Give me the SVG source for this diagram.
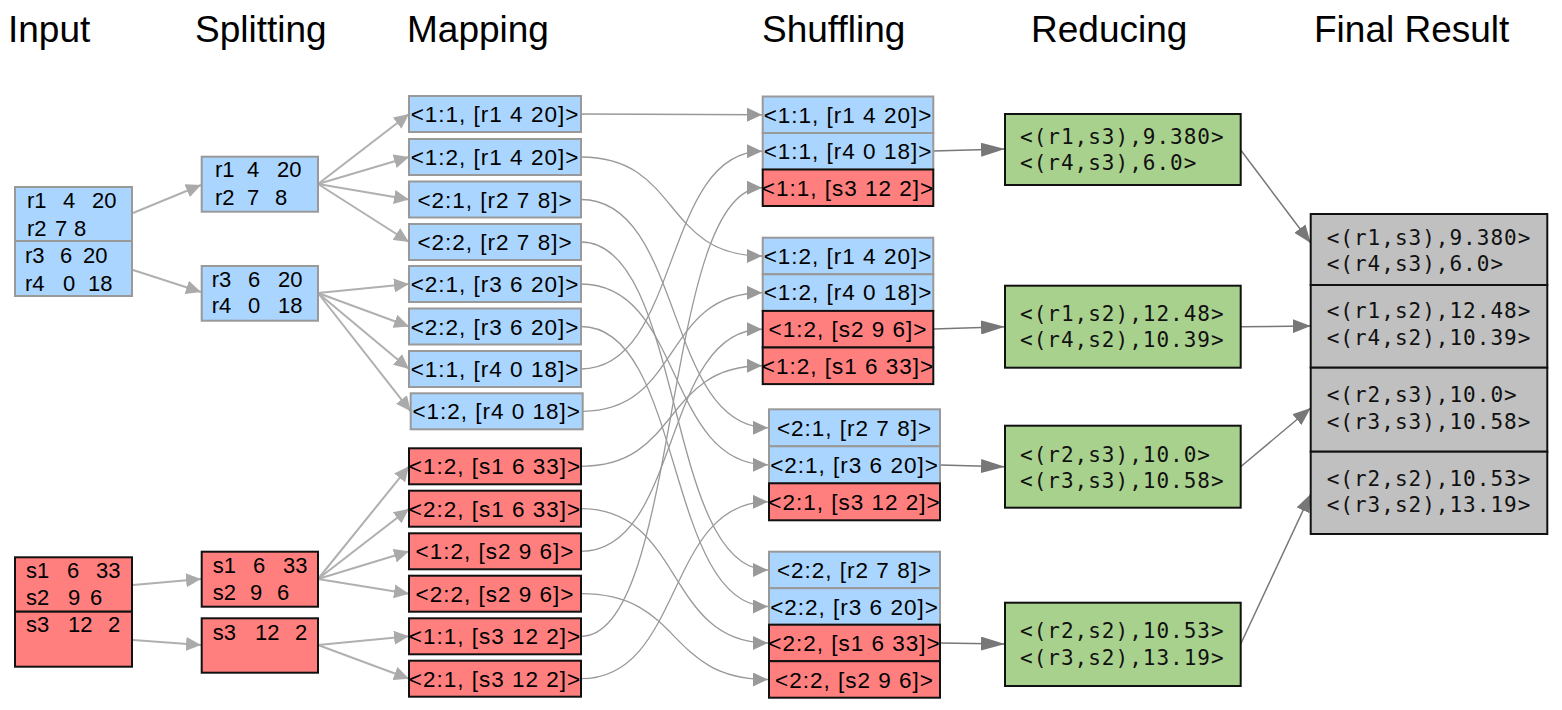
<svg xmlns="http://www.w3.org/2000/svg" width="1562" height="710" viewBox="0 0 1562 710">
<style>
.hd{font-family:"Liberation Sans",Arial,sans-serif;font-size:37px;fill:#000}
.tx{font-family:"Liberation Sans",Arial,sans-serif;font-size:22px;fill:#000}
.mt{font-family:"Liberation Sans",Arial,sans-serif;font-size:22.5px;fill:#000;letter-spacing:1px;text-anchor:middle}
.mono{font-family:"DejaVu Sans Mono","Liberation Mono",monospace;font-size:21px;fill:#111;letter-spacing:1px}
.b{fill:#aad5ff;stroke:#999;stroke-width:2}
.r{fill:#ff7f7f;stroke:#111;stroke-width:2}
.g{fill:#a9d18e;stroke:#111;stroke-width:2}
.f{fill:#c0c0c0;stroke:#111;stroke-width:2}
.c1{fill:none;stroke:#b0b0b0;stroke-width:2;marker-end:url(#aL)}
.c2{fill:none;stroke:#999;stroke-width:1.3;marker-end:url(#aM)}
.c3{fill:none;stroke:#777;stroke-width:1.5;marker-end:url(#aD)}
.c4{fill:none;stroke:#777;stroke-width:1.5;marker-end:url(#aF)}
</style>
<defs>
<marker id="aL" markerUnits="userSpaceOnUse" markerWidth="15" markerHeight="14" refX="15" refY="7" orient="auto"><path d="M0,0 L15,7 L0,14 z" fill="#aaa"/></marker>
<marker id="aM" markerUnits="userSpaceOnUse" markerWidth="15" markerHeight="14" refX="15" refY="7" orient="auto"><path d="M0,0 L15,7 L0,14 z" fill="#999"/></marker>
<marker id="aD" markerUnits="userSpaceOnUse" markerWidth="24" markerHeight="14" refX="24" refY="7" orient="auto"><path d="M0,0 L24,7 L0,14 z" fill="#777"/></marker>
<marker id="aF" markerUnits="userSpaceOnUse" markerWidth="18" markerHeight="14" refX="18" refY="7" orient="auto"><path d="M0,0 L18,7 L0,14 z" fill="#777"/></marker>
</defs>
<rect width="1562" height="710" fill="#fff"/>

<g id="headers">
<text class="hd" x="8" y="42">Input</text>
<text class="hd" x="195" y="42">Splitting</text>
<text class="hd" x="407" y="42">Mapping</text>
<text class="hd" x="762" y="42">Shuffling</text>
<text class="hd" x="1031" y="42">Reducing</text>
<text class="hd" x="1314" y="42">Final Result</text>
</g>

<g id="connectors">
<line class="c1" x1="133" y1="213" x2="201" y2="185"/>
<line class="c1" x1="133" y1="270" x2="201" y2="292"/>
<line class="c1" x1="133" y1="585" x2="201" y2="579"/>
<line class="c1" x1="133" y1="640" x2="201" y2="645"/>
<line class="c1" x1="318" y1="184" x2="409" y2="114"/>
<line class="c1" x1="318" y1="184" x2="409" y2="157"/>
<line class="c1" x1="318" y1="184" x2="409" y2="199.5"/>
<line class="c1" x1="318" y1="184" x2="409" y2="242"/>
<line class="c1" x1="318" y1="293" x2="409" y2="284"/>
<line class="c1" x1="318" y1="293" x2="409" y2="326.5"/>
<line class="c1" x1="318" y1="293" x2="409" y2="369"/>
<line class="c1" x1="318" y1="293" x2="410.7" y2="411.3"/>
<line class="c1" x1="318" y1="579" x2="409" y2="466.3"/>
<line class="c1" x1="318" y1="579" x2="409" y2="508.7"/>
<line class="c1" x1="318" y1="579" x2="409" y2="551.3"/>
<line class="c1" x1="318" y1="579" x2="409" y2="593.7"/>
<line class="c1" x1="318" y1="645" x2="409" y2="636.3"/>
<line class="c1" x1="318" y1="645" x2="409" y2="678.7"/>
<path class="c2" d="M581,114 L762,114.75"/>
<path class="c2" d="M581,157 C681,157 662,256 762,256"/>
<path class="c2" d="M581,199.5 C684,199.5 665,427.8 768,427.8"/>
<path class="c2" d="M581,242 C684,242 665,570 768,570"/>
<path class="c2" d="M581,284 C684,284 665,464.8 768,464.8"/>
<path class="c2" d="M581,326.5 C684,326.5 665,606.5 768,606.5"/>
<path class="c2" d="M581,369 C681,369 662,151.25 762,151.25"/>
<path class="c2" d="M582.7,411.3 C682,411.3 662,292.75 762,292.75"/>
<path class="c2" d="M581,466.3 C681,466.3 662,365.75 762,365.75"/>
<path class="c2" d="M581,508.7 C684,508.7 665,643 768,643"/>
<path class="c2" d="M581,551.3 C681,551.3 662,329.25 762,329.25"/>
<path class="c2" d="M581,593.7 C684,593.7 665,679.5 768,679.5"/>
<path class="c2" d="M581,636.3 C681,636.3 662,187.75 762,187.75"/>
<path class="c2" d="M581,678.7 C684,678.7 665,501.8 768,501.8"/>
<line class="c3" x1="933.3" y1="151" x2="1005" y2="149"/>
<line class="c3" x1="933.3" y1="329" x2="1005" y2="326.7"/>
<line class="c3" x1="940" y1="465" x2="1005" y2="466.7"/>
<line class="c3" x1="940" y1="643" x2="1005" y2="644"/>
<line class="c4" x1="1240.7" y1="150" x2="1310.7" y2="243"/>
<line class="c4" x1="1240.7" y1="326.7" x2="1310.7" y2="326"/>
<line class="c4" x1="1240.7" y1="466.7" x2="1310.7" y2="408"/>
<line class="c4" x1="1240.7" y1="644" x2="1310.7" y2="494"/>
</g>

<g id="input-r">
<rect class="b" x="15" y="187" width="117" height="54"/>
<rect class="b" x="15" y="241" width="117" height="55"/>
<text class="tx" y="208"><tspan x="27">r1</tspan><tspan x="63">4</tspan><tspan x="92">20</tspan></text>
<text class="tx" y="236"><tspan x="27">r2</tspan><tspan x="55">7</tspan><tspan x="74">8</tspan></text>
<text class="tx" y="263"><tspan x="25">r3</tspan><tspan x="60">6</tspan><tspan x="83">20</tspan></text>
<text class="tx" y="291"><tspan x="25">r4</tspan><tspan x="63">0</tspan><tspan x="88">18</tspan></text>
</g>
<g id="input-s">
<rect class="r" x="15" y="557.3" width="117" height="54.4"/>
<rect class="r" x="15" y="611.7" width="117" height="55"/>
<text class="tx" y="578"><tspan x="26">s1</tspan><tspan x="67">6</tspan><tspan x="96">33</tspan></text>
<text class="tx" y="605"><tspan x="26">s2</tspan><tspan x="68">9</tspan><tspan x="90">6</tspan></text>
<text class="tx" y="632"><tspan x="26">s3</tspan><tspan x="68">12</tspan><tspan x="108">2</tspan></text>
</g>

<g id="split-r1">
<rect class="b" x="201.7" y="156.7" width="116.3" height="55"/>
<text class="tx" y="177"><tspan x="215">r1</tspan><tspan x="247">4</tspan><tspan x="277">20</tspan></text>
<text class="tx" y="205"><tspan x="215">r2</tspan><tspan x="247">7</tspan><tspan x="275">8</tspan></text>
</g>
<g id="split-r2">
<rect class="b" x="201.7" y="266" width="116.3" height="54.7"/>
<text class="tx" y="287"><tspan x="211.7">r3</tspan><tspan x="248">6</tspan><tspan x="278">20</tspan></text>
<text class="tx" y="313"><tspan x="211.7">r4</tspan><tspan x="248">0</tspan><tspan x="278">18</tspan></text>
</g>
<g id="split-s1">
<rect class="r" x="201.7" y="551.7" width="116.3" height="55"/>
<text class="tx" y="573"><tspan x="212.7">s1</tspan><tspan x="253">6</tspan><tspan x="283">33</tspan></text>
<text class="tx" y="600"><tspan x="212.7">s2</tspan><tspan x="250">9</tspan><tspan x="277">6</tspan></text>
</g>
<g id="split-s2">
<rect class="r" x="201.7" y="618.3" width="116.3" height="54.4"/>
<text class="tx" y="640"><tspan x="212.7">s3</tspan><tspan x="255">12</tspan><tspan x="295">2</tspan></text>
</g>

<g id="map-1"><rect class="b" x="409" y="96" width="172" height="36"/><text class="mt" x="495" y="122">&lt;1:1, [r1 4 20]&gt;</text></g>
<g id="map-2"><rect class="b" x="409" y="139" width="172" height="36"/><text class="mt" x="495" y="165">&lt;1:2, [r1 4 20]&gt;</text></g>
<g id="map-3"><rect class="b" x="409" y="181.5" width="172" height="36"/><text class="mt" x="495" y="207.5">&lt;2:1, [r2 7 8]&gt;</text></g>
<g id="map-4"><rect class="b" x="409" y="224" width="172" height="36"/><text class="mt" x="495" y="250">&lt;2:2, [r2 7 8]&gt;</text></g>
<g id="map-5"><rect class="b" x="409" y="266" width="172" height="36"/><text class="mt" x="495" y="292">&lt;2:1, [r3 6 20]&gt;</text></g>
<g id="map-6"><rect class="b" x="409" y="308.5" width="172" height="36"/><text class="mt" x="495" y="334.5">&lt;2:2, [r3 6 20]&gt;</text></g>
<g id="map-7"><rect class="b" x="409" y="351" width="172" height="36"/><text class="mt" x="495" y="377">&lt;1:1, [r4 0 18]&gt;</text></g>
<g id="map-8"><rect class="b" x="410.7" y="393.3" width="172" height="36"/><text class="mt" x="496.7" y="419.3">&lt;1:2, [r4 0 18]&gt;</text></g>
<g id="map-9"><rect class="r" x="409" y="448.3" width="172" height="36"/><text class="mt" x="495" y="474.3">&lt;1:2, [s1 6 33]&gt;</text></g>
<g id="map-10"><rect class="r" x="409" y="490.7" width="172" height="36"/><text class="mt" x="495" y="516.7">&lt;2:2, [s1 6 33]&gt;</text></g>
<g id="map-11"><rect class="r" x="409" y="533.3" width="172" height="36"/><text class="mt" x="495" y="559.3">&lt;1:2, [s2 9 6]&gt;</text></g>
<g id="map-12"><rect class="r" x="409" y="575.7" width="172" height="36"/><text class="mt" x="495" y="601.7">&lt;2:2, [s2 9 6]&gt;</text></g>
<g id="map-13"><rect class="r" x="409" y="618.3" width="172" height="36"/><text class="mt" x="495" y="644.3">&lt;1:1, [s3 12 2]&gt;</text></g>
<g id="map-14"><rect class="r" x="409" y="660.7" width="172" height="36"/><text class="mt" x="495" y="686.7">&lt;2:1, [s3 12 2]&gt;</text></g>

<g id="shuffle-1">
<rect class="b" x="762.7" y="96.5" width="170.6" height="36.5"/>
<rect class="b" x="762.7" y="133" width="170.6" height="36.5"/>
<rect class="r" x="762.7" y="169.5" width="170.6" height="36.5"/>
<text class="mt" x="848" y="122.5">&lt;1:1, [r1 4 20]&gt;</text>
<text class="mt" x="848" y="159">&lt;1:1, [r4 0 18]&gt;</text>
<text class="mt" x="848" y="195.5">&lt;1:1, [s3 12 2]&gt;</text>
</g>
<g id="shuffle-2">
<rect class="b" x="762.7" y="237.7" width="170.6" height="36.6"/>
<rect class="b" x="762.7" y="274.3" width="170.6" height="36.6"/>
<rect class="r" x="762.7" y="310.9" width="170.6" height="36.6"/>
<rect class="r" x="762.7" y="347.5" width="170.6" height="36.6"/>
<text class="mt" x="848" y="263.7">&lt;1:2, [r1 4 20]&gt;</text>
<text class="mt" x="848" y="300.3">&lt;1:2, [r4 0 18]&gt;</text>
<text class="mt" x="848" y="336.9">&lt;1:2, [s2 9 6]&gt;</text>
<text class="mt" x="848" y="373.5">&lt;1:2, [s1 6 33]&gt;</text>
</g>
<g id="shuffle-3">
<rect class="b" x="769" y="409.3" width="171" height="37"/>
<rect class="b" x="769" y="446.3" width="171" height="37"/>
<rect class="r" x="769" y="483.3" width="171" height="37"/>
<text class="mt" x="854.5" y="435.8">&lt;2:1, [r2 7 8]&gt;</text>
<text class="mt" x="854.5" y="472.8">&lt;2:1, [r3 6 20]&gt;</text>
<text class="mt" x="854.5" y="509.8">&lt;2:1, [s3 12 2]&gt;</text>
</g>
<g id="shuffle-4">
<rect class="b" x="769" y="551.7" width="171" height="36.5"/>
<rect class="b" x="769" y="588.2" width="171" height="36.5"/>
<rect class="r" x="769" y="624.7" width="171" height="36.5"/>
<rect class="r" x="769" y="661.2" width="171" height="36.5"/>
<text class="mt" x="854.5" y="578">&lt;2:2, [r2 7 8]&gt;</text>
<text class="mt" x="854.5" y="614.5">&lt;2:2, [r3 6 20]&gt;</text>
<text class="mt" x="854.5" y="651">&lt;2:2, [s1 6 33]&gt;</text>
<text class="mt" x="854.5" y="687.5">&lt;2:2, [s2 9 6]&gt;</text>
</g>

<g id="reduce-1"><rect class="g" x="1005" y="114" width="235.7" height="71"/>
<text class="mono" x="1020" y="143.5">&lt;(r1,s3),9.380&gt;</text><text class="mono" x="1020" y="169.5">&lt;(r4,s3),6.0&gt;</text></g>
<g id="reduce-2"><rect class="g" x="1005" y="285.7" width="235.7" height="82"/>
<text class="mono" x="1020" y="320.5">&lt;(r1,s2),12.48&gt;</text><text class="mono" x="1020" y="346.5">&lt;(r4,s2),10.39&gt;</text></g>
<g id="reduce-3"><rect class="g" x="1005" y="425.7" width="235.7" height="82"/>
<text class="mono" x="1020" y="461.5">&lt;(r2,s3),10.0&gt;</text><text class="mono" x="1020" y="488">&lt;(r3,s3),10.58&gt;</text></g>
<g id="reduce-4"><rect class="g" x="1005" y="602.7" width="235.7" height="83.3"/>
<text class="mono" x="1020" y="637.5">&lt;(r2,s2),10.53&gt;</text><text class="mono" x="1020" y="664.5">&lt;(r3,s2),13.19&gt;</text></g>

<g id="final">
<rect class="f" x="1310.7" y="214" width="236.6" height="71"/>
<rect class="f" x="1310.7" y="285" width="236.6" height="82.7"/>
<rect class="f" x="1310.7" y="367.7" width="236.6" height="84"/>
<rect class="f" x="1310.7" y="451.7" width="236.6" height="82.3"/>
<text class="mono" x="1326.7" y="245">&lt;(r1,s3),9.380&gt;</text>
<text class="mono" x="1326.7" y="271">&lt;(r4,s3),6.0&gt;</text>
<text class="mono" x="1326.7" y="318">&lt;(r1,s2),12.48&gt;</text>
<text class="mono" x="1326.7" y="345">&lt;(r4,s2),10.39&gt;</text>
<text class="mono" x="1326.7" y="402">&lt;(r2,s3),10.0&gt;</text>
<text class="mono" x="1326.7" y="429">&lt;(r3,s3),10.58&gt;</text>
<text class="mono" x="1326.7" y="486">&lt;(r2,s2),10.53&gt;</text>
<text class="mono" x="1326.7" y="512">&lt;(r3,s2),13.19&gt;</text>
</g>
</svg>
